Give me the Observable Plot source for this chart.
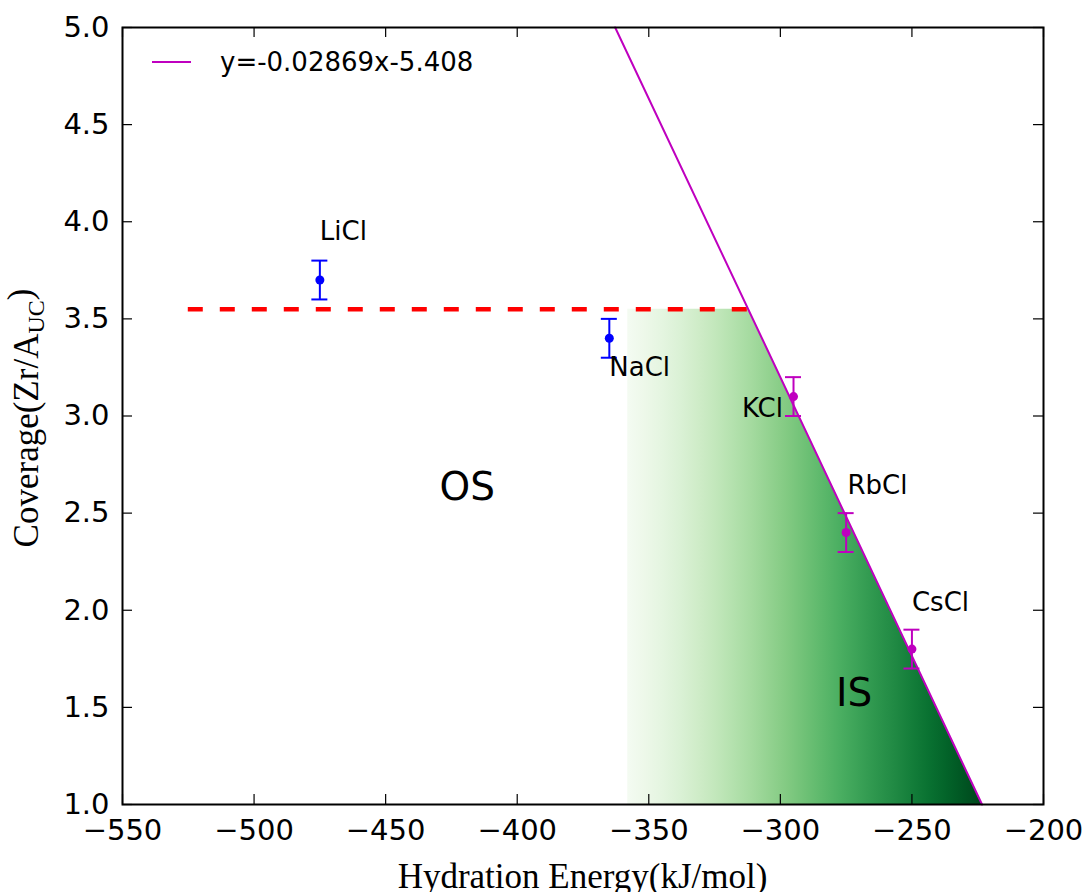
<!DOCTYPE html>
<html><head><meta charset="utf-8">
<script src="https://cdn.jsdelivr.net/npm/d3@7"></script>
<script src="https://cdn.jsdelivr.net/npm/@observablehq/plot@0.6"></script>
<style>body{margin:0;background:#fff} svg{display:block}</style>
</head><body><div id="chart"></div>
<script>
// ---- data ----
const salts = ["LiCl", "NaCl", "KCl", "RbCl", "CsCl"];
const energy = [-475, -365, -295, -275, -250];          // hydration energy kJ/mol
const coverage = [3.7, 3.4, 3.1, 2.4, 1.8];             // Zr / A_UC
const coverageErr = [0.1, 0.1, 0.1, 0.1, 0.1];
const onFit = [false, false, true, true, true];
const labelX = [-475, -365, -299, -274.5, -250];
const labelY = [3.95, 3.25, 3.04, 2.64, 2.04];
const labelSide = ["start", "start", "end", "start", "start"];
const regionNames = ["OS", "IS"];
const regionX = [-419, -272];
const regionY = [2.63, 1.57];
const fitSlope = -0.02869, fitIntercept = -5.408;
const fitLabel = "y=-0.02869x-5.408";
const plateauY = 3.55, plateauStart = -525;
const gradStart = -358, gradEnd = -223;
const xDomain = [-550, -200], yDomain = [1.0, 5.0];
const xTicks = [-550, -500, -450, -400, -350, -300, -250, -200];
const yTicks = [1.0, 1.5, 2.0, 2.5, 3.0, 3.5, 4.0, 4.5, 5.0];

// ---- derived tables ----
const BLUE = "#0000ff", MAG = "#bf00bf";
const rows = salts.map((s, i) => ({salt: s, x: energy[i], y: coverage[i], e: coverageErr[i], fit: onFit[i],
  lx: labelX[i], ly: labelY[i], side: labelSide[i]}));
const xAt = y => (y - fitIntercept) / fitSlope;
const fitLine = [{x: xAt(yDomain[1]), y: yDomain[1]}, {x: xAt(yDomain[0]), y: yDomain[0]}];
const plateauEnd = xAt(plateauY);
const region = [
  {x: gradStart, top: plateauY},
  {x: plateauEnd, top: plateauY},
  {x: xAt(yDomain[0]), top: yDomain[0]}
];
const regions = regionNames.map((n, i) => ({n, x: regionX[i], y: regionY[i]}));

const W = 1087, H = 892, mL = 122, mR = 44, mT = 27, mB = 88;
const innerW = W - mL - mR, innerH = H - mT - mB, tick = 10;

const gradientDefs = (index, scales) => {
  const defs = d3.create("svg:defs");
  const g = defs.append("linearGradient").attr("id", "greensGrad")
    .attr("gradientUnits", "userSpaceOnUse")
    .attr("x1", scales.x(gradStart)).attr("x2", scales.x(gradEnd))
    .attr("y1", 0).attr("y2", 0);
  d3.range(0, 1.0001, 0.05).forEach(t => {
    g.append("stop").attr("offset", t).attr("stop-color", d3.interpolateGreens(0.02 + 0.98 * t));
  });
  return defs.node();
};

const chart = Plot.plot({
  width: W, height: H,
  marginLeft: mL, marginRight: mR, marginTop: mT, marginBottom: mB,
  style: {fontFamily: "DejaVu Sans", fontSize: "29px", background: "#fff", color: "#000"},
  x: {domain: xDomain, label: null},
  y: {domain: yDomain, label: null},
  marks: [
    gradientDefs,
    Plot.areaY(region, {x: "x", y1: yDomain[0], y2: "top", fill: "url(#greensGrad)", curve: "linear"}),
    Plot.ruleY([plateauY], {x1: plateauStart, x2: plateauEnd, stroke: "#ff0000", strokeWidth: 4.5, strokeDasharray: "15,17"}),
    Plot.line(fitLine, {x: "x", y: "y", stroke: MAG, strokeWidth: 2}),
    // error bars
    Plot.ruleX(rows, {x: "x", y1: d => d.y - d.e, y2: d => d.y + d.e, stroke: d => d.fit ? MAG : BLUE, strokeWidth: 2}),
    Plot.ruleY(rows, {y: d => d.y + d.e, x1: "x", x2: "x", insetLeft: -8, insetRight: -8, stroke: d => d.fit ? MAG : BLUE, strokeWidth: 2}),
    Plot.ruleY(rows, {y: d => d.y - d.e, x1: "x", x2: "x", insetLeft: -8, insetRight: -8, stroke: d => d.fit ? MAG : BLUE, strokeWidth: 2}),
    Plot.dot(rows, {x: "x", y: "y", r: 4.5, fill: d => d.fit ? MAG : BLUE, stroke: "none"}),
    // labels
    Plot.text(rows.filter(d => d.side === "start"), {x: "lx", y: "ly", text: "salt", textAnchor: "start", fontSize: 26, fill: "#000"}),
    Plot.text(rows.filter(d => d.side === "end"), {x: "lx", y: "ly", text: "salt", textAnchor: "end", fontSize: 26, fill: "#000"}),
    Plot.text(regions, {x: "x", y: "y", text: "n", fontSize: 39, fill: "#000"}),
    // inward ticks, all four sides
    Plot.ruleX(xTicks, {x: d => d, y1: yDomain[1], y2: yDomain[0], insetTop: innerH - tick, stroke: "#000", strokeWidth: 1.2}),
    Plot.ruleX(xTicks, {x: d => d, y1: yDomain[1], y2: yDomain[0], insetBottom: innerH - tick, stroke: "#000", strokeWidth: 1.2}),
    Plot.ruleY(yTicks, {y: d => d, x1: xDomain[0], x2: xDomain[1], insetRight: innerW - tick, stroke: "#000", strokeWidth: 1.2}),
    Plot.ruleY(yTicks, {y: d => d, x1: xDomain[0], x2: xDomain[1], insetLeft: innerW - tick, stroke: "#000", strokeWidth: 1.2}),
    Plot.axisX({ticks: xTicks, tickSize: 0, tickPadding: 15, label: null, fontSize: 29}),
    Plot.axisY({ticks: yTicks, tickSize: 0, tickPadding: 13, label: null, tickFormat: d3.format(".1f"), fontSize: 29}),
    Plot.frame({stroke: "#000", strokeWidth: 2})
  ]
});

const svg = d3.select(chart);
// legend
const lg = svg.append("g").attr("text-anchor", "start");
lg.append("line").attr("x1", 152).attr("x2", 191).attr("y1", 62).attr("y2", 62)
  .attr("stroke", MAG).attr("stroke-width", 2);
lg.append("text").attr("x", 220).attr("y", 62).attr("dy", "0.35em").attr("text-anchor", "start")
  .attr("font-family", "DejaVu Sans").attr("font-size", 26).attr("fill", "#000").text(fitLabel);
// axis titles
svg.append("text").attr("x", mL + innerW / 2).attr("y", 888).attr("text-anchor", "middle")
  .attr("font-family", "Liberation Serif").attr("font-size", 35).attr("fill", "#000")
  .text("Hydration Energy(kJ/mol)");
const yl = svg.append("text").attr("transform", `translate(38,418) rotate(-90)`)
  .attr("text-anchor", "middle").attr("font-family", "Liberation Serif").attr("font-size", 35).attr("fill", "#000");
yl.append("tspan").text("Coverage(Zr/A");
yl.append("tspan").attr("font-size", 24).attr("dy", "0.25em").text("UC");
yl.append("tspan").attr("dy", "-0.35em").text(")");

document.getElementById("chart").appendChild(chart);
</script>
</body></html>
